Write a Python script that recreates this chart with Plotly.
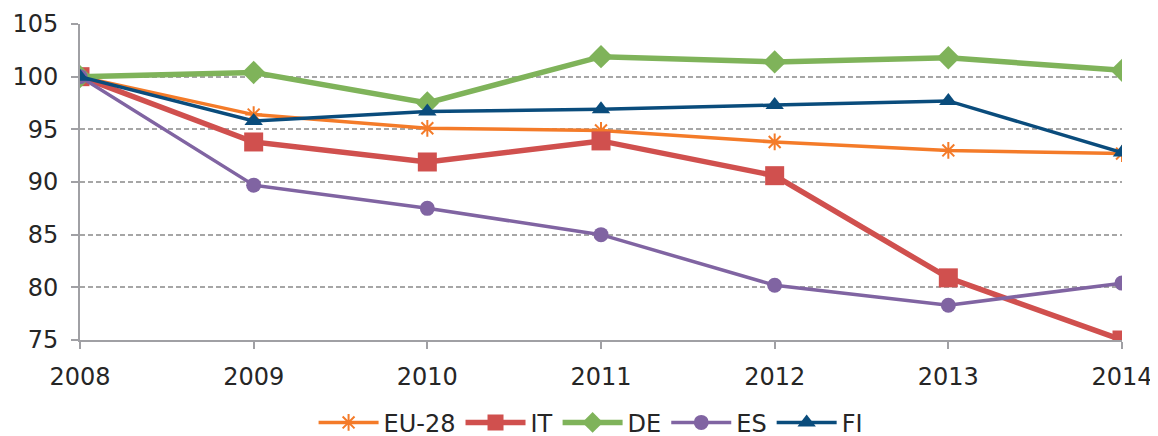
import plotly.graph_objects as go

years = [2008, 2009, 2010, 2011, 2012, 2013, 2014]
eu28 = [100, 96.4, 95.1, 94.9, 93.8, 93.0, 92.7]
it = [100, 93.8, 91.9, 93.9, 90.6, 80.9, 75.0]
de = [100, 100.4, 97.5, 101.9, 101.4, 101.8, 100.6]
es = [100, 89.7, 87.5, 85.0, 80.2, 78.3, 80.4]
fi = [100, 95.8, 96.7, 96.9, 97.3, 97.7, 92.8]

series = [
    ("EU-28", eu28, "#F47B29", 3.5, "asterisk-open", 14),
    ("IT", it, "#D0504E", 5.5, "square", 19),
    ("DE", de, "#7FB35A", 5.5, "diamond", 18),
    ("ES", es, "#8064A2", 3.5, "circle", 15),
    ("FI", fi, "#0A4C7C", 3.5, "triangle-up", 16),
]

fig = go.Figure()
for name, vals, color, w, sym, sz in series:
    fig.add_trace(go.Scatter(
        x=years, y=vals, name=name, mode="lines+markers",
        line=dict(color=color, width=w),
        marker=dict(symbol=sym, size=sz, color=color,
                    line=dict(color=color, width=2 if sym == "asterisk-open" else 0)),
    ))

font = dict(family="DejaVu Sans, Verdana, sans-serif", size=24, color="#262626")
fig.update_layout(
    width=1158, height=466,
    margin=dict(l=72, r=44, t=16, b=134),
    plot_bgcolor="white", paper_bgcolor="white",
    font=font,
    showlegend=True,
    legend=dict(orientation="h", x=0.49, xanchor="center", y=-0.262, yanchor="middle",
                font=font, itemwidth=60, tracegroupgap=0),
    xaxis=dict(range=[2008, 2014], tickvals=years, ticktext=[str(y) for y in years],
               showgrid=False, showline=True, linecolor="#A0A0A4", linewidth=2,
               ticks="outside", ticklen=7, tickcolor="#A0A0A4", tickwidth=1.5,
               ticklabelstandoff=7,
               zeroline=False, automargin=False),
    yaxis=dict(range=[75, 105], tickvals=[75, 80, 85, 90, 95, 100, 105],
               showgrid=True, gridcolor="#A6A6A6", griddash="5px,3px", gridwidth=1.8,
               showline=True, linecolor="#A0A0A4", linewidth=2,
               ticks="outside", ticklen=7, tickcolor="#A0A0A4", tickwidth=1.5,
               ticklabelstandoff=8,
               zeroline=False, automargin=False),
)
fig.write_html("out.html")
